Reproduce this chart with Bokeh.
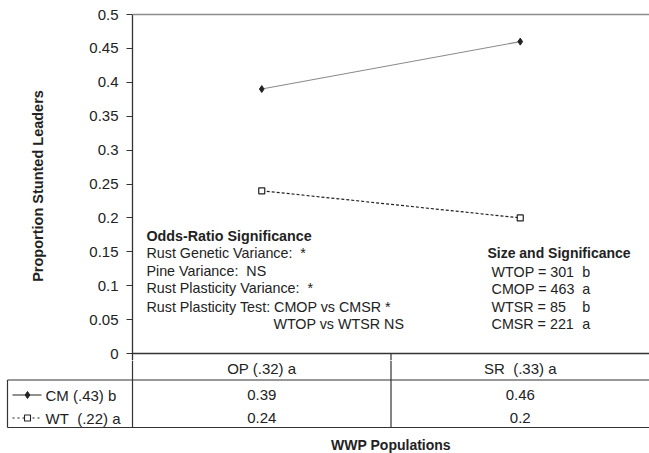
from bokeh.plotting import figure
from bokeh.models import Range1d, FixedTicker, Span
from bokeh.layouts import column
from bokeh.embed import file_html
from bokeh.resources import INLINE
from bokeh.core.properties import value

NB = "\u00a0"  # keeps doubled spaces visible in SVG text

# ---- data -------------------------------------------------------------
populations = ["OP (.32) a", "SR" + NB + " (.33) a"]
series_names = ["CM (.43) b", "WT" + NB + " (.22) a"]
cm_values = [0.39, 0.46]
wt_values = [0.24, 0.2]

y_ticks = [0, 0.05, 0.1, 0.15, 0.2, 0.25, 0.3, 0.35, 0.4, 0.45, 0.5]
y_tick_labels = ["0", "0.05", "0.1", "0.15", "0.2", "0.25", "0.3", "0.35", "0.4", "0.45", "0.5"]

odds_title = "Odds-Ratio Significance"
odds_lines = [
    "Rust Genetic Variance:" + NB + " *",
    "Pine Variance:" + NB + " NS",
    "Rust Plasticity Variance:" + NB + " *",
    "Rust Plasticity Test: CMOP vs CMSR *",
]
odds_extra = "WTOP vs WTSR NS"

size_title = "Size and Significance"
size_labels = ["WTOP = 301", "CMOP = 463", "WTSR = 85", "CMSR = 221"]
size_letters = ["b", "a", "b", "a"]

# ---- styling ----------------------------------------------------------
FONT = "Liberation Sans"
INK = "#222222"
AXIS = "#333333"
PX_PER_X = 258.5          # pixels per category unit
PX_PER_Y = 678.0          # pixels per proportion unit
LEFT = 132
Y_LO = -7 / PX_PER_Y
Y_HI = 0.5 + 3 / PX_PER_Y
NOTE_SIZE = "14.3px"
TABLE_SIZE = "15px"

xs = [i + 0.5 for i in range(len(populations))]

# ---- main chart -------------------------------------------------------
p = figure(width=649, height=360,
           x_range=Range1d(0, len(populations)), y_range=Range1d(Y_LO, Y_HI),
           min_border_left=LEFT, min_border_right=0, min_border_top=11, min_border_bottom=0,
           output_backend="svg", toolbar_location=None, x_axis_location=None)
p.frame_align = False
p.outline_line_color = None
p.grid.visible = False
p.background_fill_color = "white"

ax = p.yaxis[0]
ax.ticker = FixedTicker(ticks=y_ticks)
ax.major_label_overrides = dict(zip(y_ticks, y_tick_labels))
ax.bounds = (Y_LO, 0.5)
ax.axis_line_color = AXIS
ax.axis_line_width = 1.3
ax.major_tick_line_color = AXIS
ax.major_tick_out = 6
ax.major_tick_in = 0
ax.minor_tick_out = 0
ax.minor_tick_in = 0
ax.major_label_standoff = 8
ax.major_label_text_font = FONT
ax.major_label_text_font_size = "15px"
ax.major_label_text_color = INK
ax.axis_label = "Proportion Stunted Leaders"
ax.axis_label_text_font = FONT
ax.axis_label_text_font_size = "14.5px"
ax.axis_label_text_font_style = "bold"
ax.axis_label_text_color = INK
ax.axis_label_standoff = 40

p.add_layout(Span(location=0.5, dimension="width", line_color="#8c8c8c", line_width=1.3))
p.add_layout(Span(location=0, dimension="width", line_color=AXIS, line_width=1.3))
# column divider continuing into the data table
p.segment(x0=[1], y0=[0], x1=[1], y1=[Y_LO], line_color=AXIS, line_width=1.2)

# CM series
p.line(xs, cm_values, line_color="#8a8a8a", line_width=1.1)
p.scatter(xs, cm_values, marker="diamond", size=7, fill_color=INK, line_color=INK)
# WT series
p.line(xs, wt_values, line_color=INK, line_width=1.2, line_dash="3 2")
p.scatter(xs, wt_values, marker="square", size=6, fill_color="white", line_color=INK, line_width=1.2)

# odds-ratio annotation block
odds_x = 0.054
odds_y = [0.1475, 0.1217, 0.0959, 0.0693]
p.text(x=[odds_x], y=[0.174], text=[odds_title], text_font=value(FONT), text_font_size=NOTE_SIZE,
       text_font_style="bold", text_color=INK, text_baseline="middle", text_align="left")
p.text(x=[odds_x] * len(odds_lines), y=odds_y, text=odds_lines, text_font=value(FONT),
       text_font_size=NOTE_SIZE, text_color=INK, text_baseline="middle", text_align="left")
p.text(x=[0.545], y=[0.0442], text=[odds_extra], text_font=value(FONT),
       text_font_size=NOTE_SIZE, text_color=INK, text_baseline="middle", text_align="left")

# sample size annotation block
size_y = [0.12, 0.0944, 0.0683, 0.0442]
p.text(x=[1.373], y=[0.1475], text=[size_title], text_font=value(FONT), text_font_size="14px",
       text_font_style="bold", text_color=INK, text_baseline="middle", text_align="left")
p.text(x=[1.389] * len(size_labels), y=size_y, text=size_labels, text_font=value(FONT),
       text_font_size=NOTE_SIZE, text_color=INK, text_baseline="middle", text_align="left")
p.text(x=[1.740] * len(size_letters), y=size_y, text=size_letters, text_font=value(FONT),
       text_font_size=NOTE_SIZE, text_color=INK, text_baseline="middle", text_align="left")

# ---- data table under the chart --------------------------------------
x_lo = -LEFT / PX_PER_X
t = figure(width=649, height=93,
           x_range=Range1d(x_lo, len(populations)), y_range=Range1d(93, 0),
           min_border=0, min_border_left=0, min_border_right=0, min_border_top=0, min_border_bottom=0,
           output_backend="svg", toolbar_location=None,
           x_axis_location=None, y_axis_location=None)
t.frame_align = False
t.outline_line_color = None
t.grid.visible = False
t.background_fill_color = "white"

edge = (7 - LEFT) / PX_PER_X
ROW_SEP, ROW_END = 19.5, 67
row_y = [34.5, 57.5]

t.segment(x0=[edge, edge], y0=[ROW_SEP, ROW_END], x1=[len(populations)] * 2, y1=[ROW_SEP, ROW_END],
          line_color=AXIS, line_width=1.2)
t.segment(x0=[edge, 0, 1], y0=[ROW_SEP, 0, 0], x1=[edge, 0, 1], y1=[ROW_END] * 3,
          line_color=AXIS, line_width=1.2)

# column headers
t.text(x=xs, y=[7.8] * len(xs), text=populations, text_font=value(FONT), text_font_size=TABLE_SIZE,
       text_color=INK, text_baseline="middle", text_align="center")

# legend keys
key_x0 = (12 - LEFT) / PX_PER_X
key_x1 = (41 - LEFT) / PX_PER_X
key_xm = (27 - LEFT) / PX_PER_X
t.line([key_x0, key_x1], [row_y[0]] * 2, line_color=INK, line_width=1.1)
t.scatter([key_xm], [row_y[0]], marker="diamond", size=7, fill_color=INK, line_color=INK)
t.line([key_x0, key_x1], [row_y[1]] * 2, line_color=INK, line_width=1.1, line_dash="2 3")
t.scatter([key_xm], [row_y[1]], marker="square", size=6, fill_color="white", line_color=INK, line_width=1.1)
t.text(x=[(45 - LEFT) / PX_PER_X] * 2, y=row_y, text=series_names, text_font=value(FONT),
       text_font_size=TABLE_SIZE, text_color=INK, text_baseline="middle", text_align="left")

# table values
t.text(x=xs, y=[row_y[0]] * len(xs), text=[str(v) for v in cm_values], text_font=value(FONT),
       text_font_size=TABLE_SIZE, text_color=INK, text_baseline="middle", text_align="center")
t.text(x=xs, y=[row_y[1]] * len(xs), text=[str(v) for v in wt_values], text_font=value(FONT),
       text_font_size=TABLE_SIZE, text_color=INK, text_baseline="middle", text_align="center")

# x axis title
t.text(x=[len(populations) / 2], y=[84], text=["WWP Populations"], text_font=value(FONT),
       text_font_size="14px", text_font_style="bold", text_color=INK,
       text_baseline="middle", text_align="center")

layout = column(p, t)
open("out.html", "w").write(file_html(layout, INLINE))
